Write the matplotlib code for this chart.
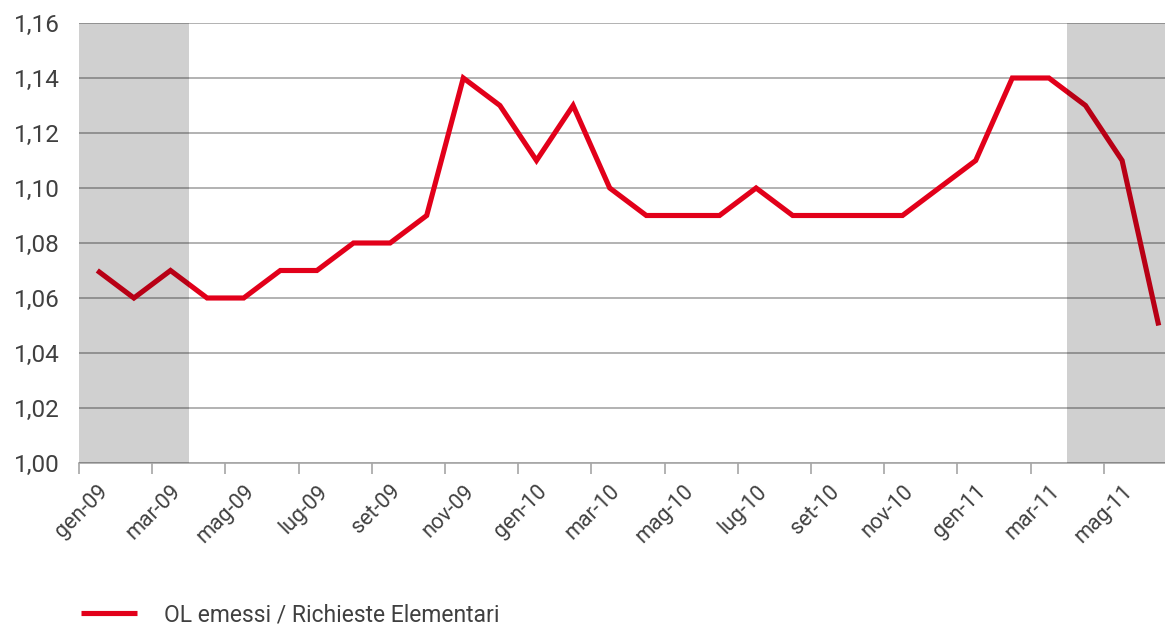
import matplotlib
matplotlib.use("Agg")
import matplotlib.pyplot as plt
from matplotlib.ticker import FixedLocator, FuncFormatter, NullFormatter

months = ["gen-09", "feb-09", "mar-09", "apr-09", "mag-09", "giu-09", "lug-09", "ago-09",
          "set-09", "ott-09", "nov-09", "dic-09", "gen-10", "feb-10", "mar-10", "apr-10",
          "mag-10", "giu-10", "lug-10", "ago-10", "set-10", "ott-10", "nov-10", "dic-10",
          "gen-11", "feb-11", "mar-11", "apr-11", "mag-11", "giu-11"]
ratio = [1.07, 1.06, 1.07, 1.06, 1.06, 1.07, 1.07, 1.08, 1.08, 1.09,
         1.14, 1.13, 1.11, 1.13, 1.10, 1.09, 1.09, 1.09, 1.10, 1.09,
         1.09, 1.09, 1.09, 1.10, 1.11, 1.14, 1.14, 1.13, 1.11, 1.05]
series_label = "OL emessi / Richieste Elementari"
shaded_spans = [(0, 2), (27, 29)]   # first and last index of each highlighted quarter
y_ticks = [1.00, 1.02, 1.04, 1.06, 1.08, 1.10, 1.12, 1.14, 1.16]

plt.rcParams["font.family"] = ["Roboto", "DejaVu Sans"]
text_color = "#404040"
red = "#E2001A"
grid_color = "#A6A6A6"

fig = plt.figure(figsize=(11.65, 6.25), dpi=100)
W, H = 1165, 625
left_px, right_px, top_px, bottom_px = 79, 1177, 23, 463
ax = fig.add_axes([left_px / W, 1 - bottom_px / H,
                   (right_px - left_px) / W, (bottom_px - top_px) / H])

x = list(range(len(months)))
line, = ax.plot(x, ratio, color=red, lw=3.7, solid_joinstyle="miter",
                solid_capstyle="butt", zorder=3, label=series_label)

for a, b in shaded_spans:
    ax.axvspan(a - 0.5, b + 0.5, color="black", alpha=0.185, lw=0, zorder=4)

ax.set_xlim(-0.5, len(months) - 0.5)
ax.set_ylim(y_ticks[0], y_ticks[-1])

# y axis: gridlines with decimal-comma labels
ax.set_yticks(y_ticks)
ax.yaxis.set_major_formatter(FuncFormatter(lambda v, p: f"{v:.2f}".replace(".", ",")))
ax.grid(axis="y", color=grid_color, lw=1.2, zorder=1)
ax.tick_params(axis="y", length=0, pad=14, labelsize=17.5, labelcolor=text_color)

# x axis: tick marks between categories, labels on every other month
ax.xaxis.set_major_locator(FixedLocator([i - 0.5 for i in range(0, len(months), 2)]))
ax.xaxis.set_major_formatter(NullFormatter())
ax.xaxis.set_minor_locator(FixedLocator(list(range(0, len(months), 2))))
ax.set_xticks(list(range(0, len(months), 2)), minor=True)
ax.set_xticklabels(months[::2], minor=True, rotation=45, ha="right",
                   rotation_mode="anchor", fontsize=15.5, color=text_color)
ax.tick_params(axis="x", which="major", length=8, width=1.2, color=grid_color, direction="out")
ax.tick_params(axis="x", which="minor", length=0, pad=13)

for s in ["top", "right", "left"]:
    ax.spines[s].set_visible(False)
ax.spines["bottom"].set_color(grid_color)
ax.spines["bottom"].set_linewidth(1.2)
ax.set_axisbelow(True)

fig.legend(handles=[line], labels=[series_label], loc="center left",
           bbox_to_anchor=(60 / W, 1 - 615 / H), frameon=False, fontsize=16.5,
           handlelength=2.45, handletextpad=1.2, labelcolor=text_color)

fig.savefig("out.png", dpi=100)
